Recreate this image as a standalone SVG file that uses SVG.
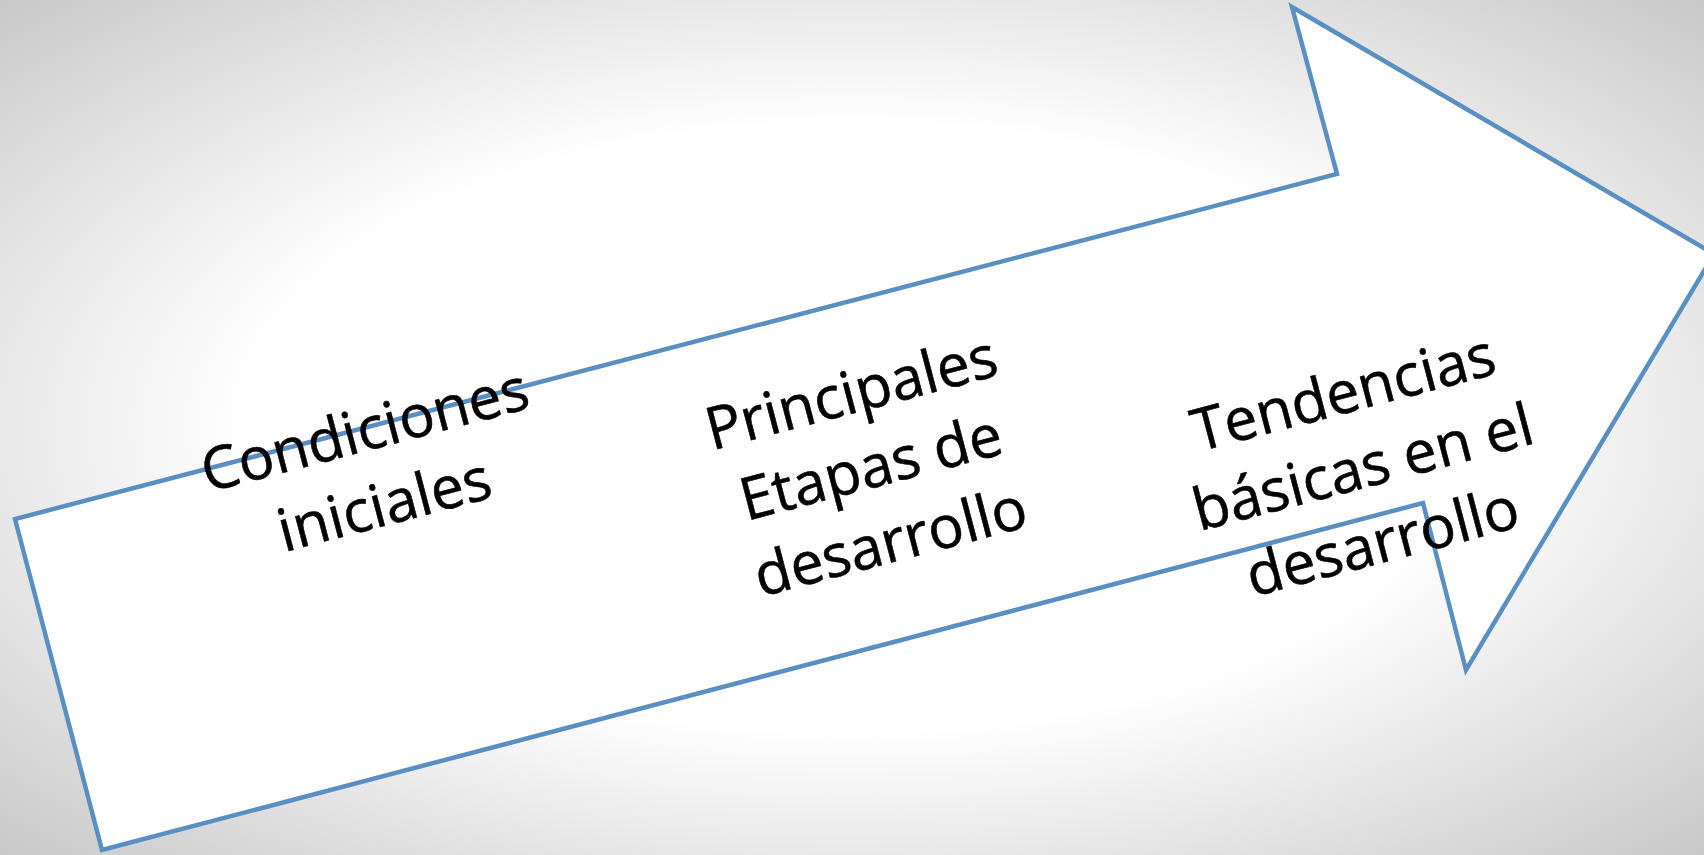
<svg xmlns="http://www.w3.org/2000/svg" width="1704" height="855" viewBox="0 0 1704 855">
  <defs>
    <radialGradient id="bg" cx="50%" cy="50%" r="71%">
      <stop offset="0" stop-color="#ffffff"/>
      <stop offset="0.5" stop-color="#ffffff"/>
      <stop offset="1" stop-color="#c8c8c8"/>
    </radialGradient>
  </defs>
  <style>
    .arrow { fill: #ffffff; stroke: #5a8fc3; stroke-width: 4.5; stroke-linejoin: miter; }
    .lbl { font-family: "Open Sans", "Liberation Sans", sans-serif; font-size: 59px; fill: #000000; stroke: #000000; stroke-width: 0.6; text-anchor: middle; }
  </style>
  <rect x="0" y="0" width="1704" height="855" fill="url(#bg)"/>
  <g id="arrow">
    <polygon class="arrow" points="15,519 102,850 1423,503 1466,670 1714,254 1292,7 1337,174"/>
  </g>
  <g id="node-condiciones" transform="translate(370,450) rotate(-14.7)">
    <text class="lbl" x="0" y="0">Condiciones</text>
    <text class="lbl" x="0" y="77">iniciales</text>
  </g>
  <g id="node-etapas" transform="translate(876,487) rotate(-14.7)">
    <text class="lbl" x="0" y="-77">Principales</text>
    <text class="lbl" x="0" y="0">Etapas de</text>
    <text class="lbl" x="0" y="77">desarrollo</text>
  </g>
  <g id="node-tendencias" transform="translate(1368,487) rotate(-14.7)">
    <text class="lbl" x="0" y="-77">Tendencias</text>
    <text class="lbl" x="0" y="0">básicas en el</text>
    <text class="lbl" x="0" y="77">desarrollo</text>
  </g>
  <g id="connectors"/>
</svg>
